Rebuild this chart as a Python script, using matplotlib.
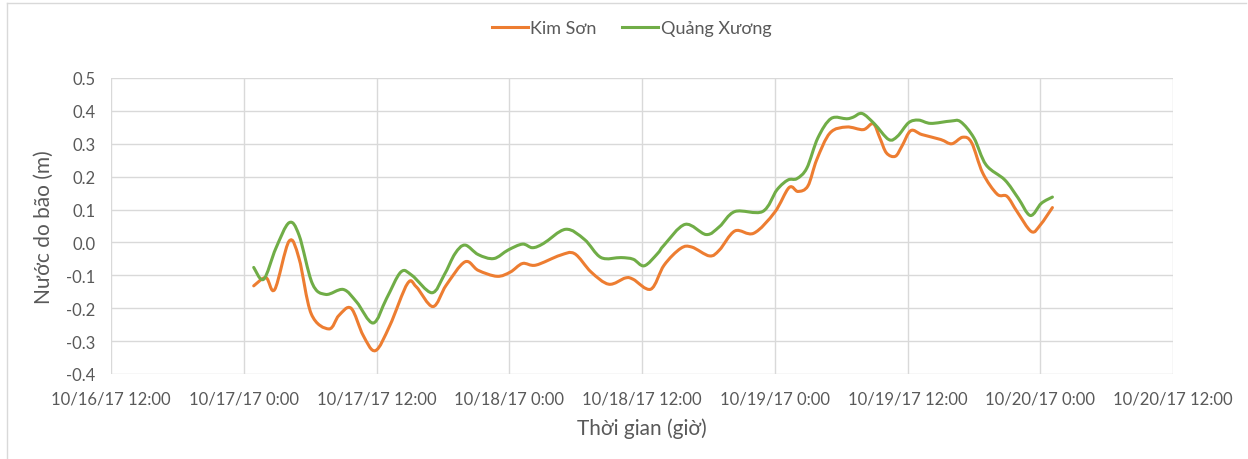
import numpy as np
import matplotlib
matplotlib.use("Agg")
import matplotlib.pyplot as plt
from matplotlib.path import Path
from matplotlib.patches import PathPatch
from matplotlib.lines import Line2D

# Hours since 10/17/17 0:00 and surge height (m)
ks_hours = [0.9, 2.0, 2.8, 4.1, 5.0, 6.1, 7.7, 8.6, 9.7, 10.8, 11.9, 13.2, 14.8, 15.6, 17.1,
            18.3, 20.0, 21.2, 22.9, 24.1, 25.2, 26.4, 28.6, 29.9, 31.4, 33.0, 34.5, 35.2, 36.8,
            38.0, 39.5, 40.5, 42.1, 43.0, 44.4, 46.1, 48.0, 49.3, 50.1, 51.0, 51.8, 53.0, 54.5,
            56.0, 56.9, 57.5, 58.1, 58.9, 59.5, 60.3, 61.3, 63.0, 64.0, 65.0, 65.8, 66.8, 68.1,
            69.0, 69.9, 71.2, 72.0, 73.1]
kim_son = [-0.132, -0.107, -0.143, 0.004, -0.049, -0.217, -0.263, -0.222, -0.200, -0.283,
           -0.329, -0.253, -0.125, -0.135, -0.195, -0.130, -0.059, -0.085, -0.103, -0.090,
           -0.064, -0.069, -0.039, -0.034, -0.090, -0.127, -0.108, -0.112, -0.142, -0.069,
           -0.018, -0.014, -0.041, -0.023, 0.035, 0.028, 0.092, 0.167, 0.155, 0.172,
           0.252, 0.333, 0.351, 0.343, 0.361, 0.318, 0.272, 0.262, 0.293, 0.340,
           0.328, 0.313, 0.300, 0.320, 0.303, 0.211, 0.147, 0.140, 0.094, 0.033,
           0.053, 0.106]

qx_hours = [0.9, 1.8, 2.9, 4.1, 5.0, 6.2, 7.4, 9.0, 10.2, 11.7, 12.9, 14.2, 15.2, 17.0, 18.1,
            19.1, 20.0, 21.2, 22.6, 23.9, 25.2, 26.1, 27.1, 29.1, 30.8, 32.3, 34.1, 35.2, 36.2,
            37.4, 38.0, 39.9, 41.8, 43.0, 44.4, 46.9, 48.2, 49.2, 50.0, 50.9, 51.9, 53.1, 54.5,
            55.1, 55.9, 57.0, 58.3, 59.1, 60.1, 61.0, 62.1, 63.9, 64.8, 66.0, 67.1, 68.8, 70.0,
            71.1, 72.1, 73.1]
quang_xuong = [-0.076, -0.112, -0.018, 0.060, 0.022, -0.125, -0.158, -0.143, -0.181, -0.245,
               -0.171, -0.090, -0.100, -0.153, -0.100, -0.034, -0.008, -0.037, -0.049, -0.023,
               -0.005, -0.016, -0.003, 0.040, 0.009, -0.046, -0.046, -0.051, -0.071, -0.034,
               -0.008, 0.055, 0.024, 0.048, 0.094, 0.094, 0.160, 0.190, 0.194, 0.226,
               0.318, 0.377, 0.376, 0.381, 0.392, 0.361, 0.313, 0.323, 0.364, 0.372,
               0.362, 0.369, 0.367, 0.318, 0.236, 0.190, 0.135, 0.082, 0.119, 0.138]

x_ticks = [-12, 0, 12, 24, 36, 48, 60, 72, 84]
x_labels = ["10/16/17 12:00", "10/17/17 0:00", "10/17/17 12:00", "10/18/17 0:00",
            "10/18/17 12:00", "10/19/17 0:00", "10/19/17 12:00", "10/20/17 0:00",
            "10/20/17 12:00"]
y_ticks = [-0.4, -0.3, -0.2, -0.1, 0.0, 0.1, 0.2, 0.3, 0.4, 0.5]

ORANGE = "#ED7D31"
GREEN = "#70AD47"
GREY = "#595959"

plt.rcParams['font.family'] = ['Lato', 'DejaVu Sans']


# Excel-style smoothed line: cubic Bezier through every data point
def smooth_path(xs, ys):
    pts = np.column_stack([xs, ys])
    n = len(pts)
    verts = [pts[0]]
    codes = [Path.MOVETO]
    for i in range(n - 1):
        p0 = pts[i - 1] if i > 0 else pts[i]
        p1 = pts[i]
        p2 = pts[i + 1]
        p3 = pts[i + 2] if i + 2 < n else pts[i + 1]
        verts += [p1 + (p2 - p0) / 6, p2 - (p3 - p1) / 6, p2]
        codes += [Path.CURVE4] * 3
    return Path(verts, codes)


fig = plt.figure(figsize=(12.48, 4.6), dpi=100)
ax = fig.add_axes([111 / 1248, 1 - 375 / 460, (1173 - 111) / 1248, (375 - 79) / 460])

for xs, ys, c in [(ks_hours, kim_son, ORANGE), (qx_hours, quang_xuong, GREEN)]:
    ax.add_patch(PathPatch(smooth_path(xs, ys), facecolor='none', edgecolor=c,
                           lw=2.2, capstyle='round', joinstyle='round'))

ax.set_xlim(-12, 84)
ax.set_ylim(-0.4, 0.5)
ax.set_xticks(x_ticks)
ax.set_xticklabels(x_labels)
ax.set_yticks(y_ticks)
ax.set_yticklabels([f"{v:.1f}" for v in y_ticks])
ax.grid(True, color="#d9d9d9", lw=1)
ax.set_axisbelow(True)
for s in ax.spines.values():
    s.set_visible(False)
ax.tick_params(length=0, colors=GREY, labelsize=12)
ax.tick_params(axis='x', pad=12)
ax.tick_params(axis='y', pad=11)

ax.set_xlabel("Thời gian (giờ)", fontsize=15, color=GREY, labelpad=8)
ax.set_ylabel("Nước do bão (m)", fontsize=15, color=GREY, labelpad=9)

handles = [Line2D([], [], color=ORANGE, lw=2.2), Line2D([], [], color=GREEN, lw=2.2)]
fig.legend(handles, ["Kim Sơn", "Quảng Xương"], loc='center', bbox_to_anchor=(0.506, 1 - 29 / 460),
           ncol=2, frameon=False, fontsize=13, labelcolor=GREY, handlelength=2.0,
           handletextpad=0.15, columnspacing=1.4)

# chart frame
fig.add_artist(Line2D([7 / 1248, 7 / 1248], [0, 1 - 4 / 460], color="#d9d9d9", lw=1))
fig.add_artist(Line2D([7 / 1248, 1246 / 1248], [1 - 4 / 460, 1 - 4 / 460], color="#d9d9d9", lw=1))

fig.savefig("out.png", dpi=100)
